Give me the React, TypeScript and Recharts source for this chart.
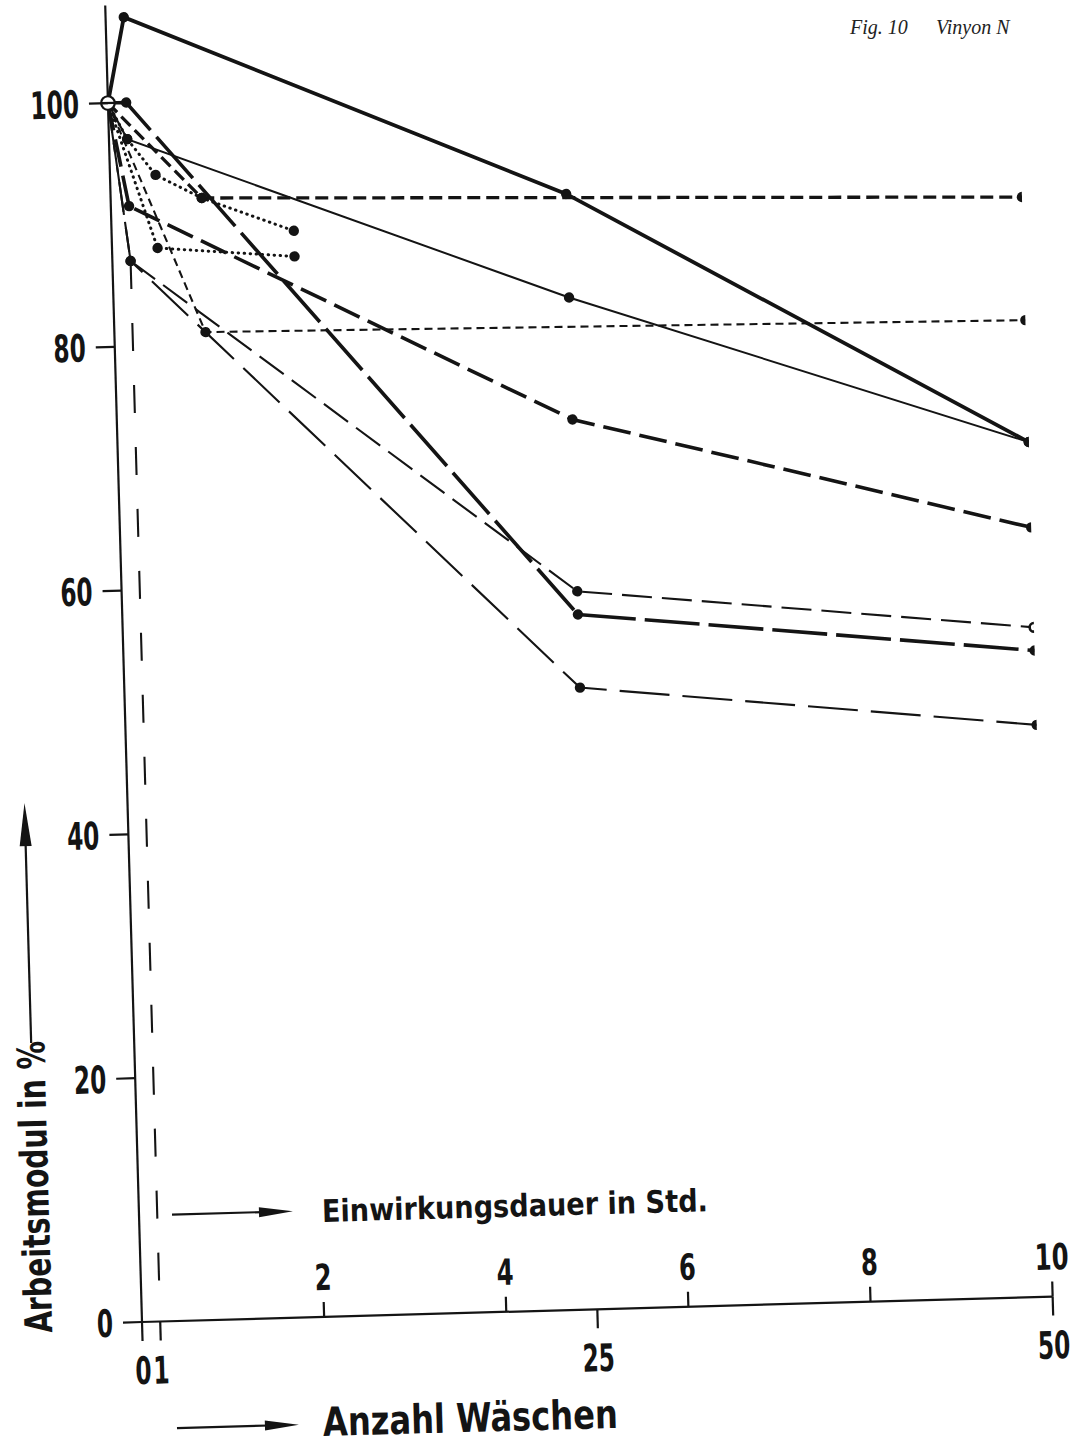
import { LineChart, Line, XAxis, YAxis, ReferenceDot } from "recharts";

type Punkt = { x: number; y: number };

// x = Anzahl Wäschen (10 Std. Einwirkungsdauer entsprechen 50 Wäschen), y = Arbeitsmodul in %
const dickVoll: Punkt[] = [
  { x: 0, y: 100 },
  { x: 1, y: 107 },
  { x: 25, y: 91.5 },
  { x: 50, y: 70.1 },
];
const duennVoll: Punkt[] = [
  { x: 0, y: 100 },
  { x: 1, y: 97 },
  { x: 25, y: 83 },
  { x: 50, y: 70.1 },
];
const strich92: Punkt[] = [
  { x: 0, y: 100 },
  { x: 5, y: 92 },
  { x: 50, y: 90.2 },
];
const kurzStrich81: Punkt[] = [
  { x: 0, y: 100 },
  { x: 5, y: 81 },
  { x: 50, y: 80.1 },
];
const langDick57: Punkt[] = [
  { x: 0, y: 100 },
  { x: 1, y: 100 },
  { x: 25, y: 57 },
  { x: 50, y: 53 },
];
const langDick73: Punkt[] = [
  { x: 0, y: 100 },
  { x: 1, y: 91.5 },
  { x: 25, y: 73 },
  { x: 50, y: 63.1 },
];
const strich59: Punkt[] = [
  { x: 0, y: 100 },
  { x: 1, y: 87 },
  { x: 25, y: 58.9 },
  { x: 50, y: 54.9 },
];
const langDuenn51: Punkt[] = [
  { x: 0, y: 100 },
  { x: 1, y: 87 },
  { x: 25, y: 51 },
  { x: 50, y: 46.9 },
];
const senkrecht: Punkt[] = [
  { x: 1, y: 87 },
  { x: 1, y: 2 },
];
const punktiert89: Punkt[] = [
  { x: 0, y: 100 },
  { x: 1, y: 97 },
  { x: 2.5, y: 94 },
  { x: 5, y: 92 },
  { x: 10, y: 89.1 },
];
const punktiert87: Punkt[] = [
  { x: 0, y: 100 },
  { x: 2.5, y: 88 },
  { x: 10, y: 87 },
];

const WASCH_TICKS = [0, 1, 25, 50];
const STD_TICKS = [2, 4, 6, 8, 10];
const WAESCHEN_JE_STD = 5;
const Y_TICKS = [0, 20, 40, 60, 80, 100];

const X_TICKS = Array.from(
  new Set([...WASCH_TICKS, ...STD_TICKS.map((s) => s * WAESCHEN_JE_STD)])
).sort((a, b) => a - b);

const SCHWARZ = "#141414";
const SCHRIFT =
  "'Liberation Sans Narrow', 'DejaVu Sans Condensed', 'Roboto Condensed', Arial, sans-serif";

// schmale, fette Ziffern wie in der Normschrift: waagerecht gestaucht
function Ziffern({ x, y, wert, groesse, anker, stauchung }: { x: number; y: number; wert: number; groesse: number; anker: "start" | "middle" | "end"; stauchung: number }) {
  return (
    <text
      transform={`translate(${x} ${y}) scale(${stauchung} 1)`}
      x={0}
      y={0}
      textAnchor={anker}
      fontFamily={SCHRIFT}
      fontWeight="bold"
      fontSize={groesse}
      fill={SCHWARZ}
    >
      {wert}
    </text>
  );
}

function dotRenderer(anzahl: number, offenAmEnde = false) {
  return (props: any) => {
    const { cx, cy, index, payload } = props;
    const key = `p-${index}`;
    if (cx == null || payload?.x === 0) return <g key={key} />;
    if (offenAmEnde && index === anzahl - 1) {
      return <circle key={key} cx={cx} cy={cy} r={4.3} fill="#fff" stroke={SCHWARZ} strokeWidth={2.6} />;
    }
    return <circle key={key} cx={cx} cy={cy} r={5.2} fill={SCHWARZ} />;
  };
}

function XTick(props: any) {
  const { x, y, payload } = props;
  const w = payload.value as number;
  const std = w / WAESCHEN_JE_STD;
  const istWasch = WASCH_TICKS.includes(w);
  const istStd = STD_TICKS.includes(std);
  return (
    <g>
      {istWasch && <line x1={x} y1={y} x2={x} y2={y + 19} stroke={SCHWARZ} strokeWidth={2.2} />}
      {istWasch && <Ziffern x={x} y={y + 62} wert={w} groesse={38} anker="middle" stauchung={0.68} />}
      {istStd && <line x1={x} y1={y} x2={x} y2={y - 15} stroke={SCHWARZ} strokeWidth={2.2} />}
      {istStd && <Ziffern x={x} y={y - 27} wert={std} groesse={36} anker="middle" stauchung={0.75} />}
    </g>
  );
}

function YTick(props: any) {
  const { x, y, payload } = props;
  return (
    <g>
      <line x1={x - 19} y1={y} x2={x} y2={y} stroke={SCHWARZ} strokeWidth={2.2} />
      <Ziffern x={x - 29} y={y + 14} wert={payload.value} groesse={38} anker="end" stauchung={0.68} />
    </g>
  );
}

function Nullpunkt(props: any) {
  const { cx, cy } = props;
  return (
    <g>
      <circle cx={cx} cy={cy} r={6.8} fill="#fff" stroke={SCHWARZ} strokeWidth={2.2} />
      <line x1={cx - 6.8} y1={cy} x2={cx + 6.8} y2={cy} stroke={SCHWARZ} strokeWidth={2.2} />
    </g>
  );
}

export default function App() {
  return (
    <div style={{ position: "absolute", left: 0, top: 0, width: 1083, height: 1446, background: "#fff" }}>
      <div
        style={{
          position: "absolute",
          left: 0,
          top: 0,
          width: 1076,
          height: 1446,
          transform: "rotate(-1.6deg)",
          transformOrigin: "142px 1322px",
        }}
      >
        <LineChart width={1076} height={1446} margin={{ top: 5, right: 23, bottom: 84, left: 42 }}>
          <XAxis
            type="number"
            dataKey="x"
            domain={[0, 50]}
            ticks={X_TICKS}
            interval={0}
            tick={(p: any) => <XTick {...p} />}
            tickSize={0}
            tickMargin={0}
            tickLine={false}
            axisLine={{ stroke: SCHWARZ, strokeWidth: 2.2 }}
            height={40}
            allowDataOverflow
          />
          <YAxis
            type="number"
            domain={[0, 108]}
            ticks={Y_TICKS}
            interval={0}
            tick={(p: any) => <YTick {...p} />}
            tickSize={0}
            tickMargin={0}
            tickLine={false}
            axisLine={{ stroke: SCHWARZ, strokeWidth: 2.2 }}
            width={100}
            allowDataOverflow
          />

          <Line data={senkrecht} dataKey="y" stroke={SCHWARZ} strokeWidth={2.1} strokeDasharray="28 34" dot={false} activeDot={false} isAnimationActive={false} />
          <Line data={punktiert89} dataKey="y" stroke={SCHWARZ} strokeWidth={3} strokeDasharray="0.5 5.5" strokeLinecap="round" dot={dotRenderer(punktiert89.length)} activeDot={false} isAnimationActive={false} />
          <Line data={punktiert87} dataKey="y" stroke={SCHWARZ} strokeWidth={3} strokeDasharray="0.5 5.5" strokeLinecap="round" dot={dotRenderer(punktiert87.length)} activeDot={false} isAnimationActive={false} />
          <Line data={kurzStrich81} dataKey="y" stroke={SCHWARZ} strokeWidth={2.1} strokeDasharray="8 5" dot={dotRenderer(kurzStrich81.length)} activeDot={false} isAnimationActive={false} />
          <Line data={langDuenn51} dataKey="y" stroke={SCHWARZ} strokeWidth={2.1} strokeDasharray="50 13" dot={dotRenderer(langDuenn51.length)} activeDot={false} isAnimationActive={false} />
          <Line data={strich59} dataKey="y" stroke={SCHWARZ} strokeWidth={2.1} strokeDasharray="30 10" dot={dotRenderer(strich59.length, true)} activeDot={false} isAnimationActive={false} />
          <Line data={duennVoll} dataKey="y" stroke={SCHWARZ} strokeWidth={2} dot={dotRenderer(duennVoll.length)} activeDot={false} isAnimationActive={false} />
          <Line data={langDick73} dataKey="y" stroke={SCHWARZ} strokeWidth={3.6} strokeDasharray="28 9" dot={dotRenderer(langDick73.length)} activeDot={false} isAnimationActive={false} />
          <Line data={langDick57} dataKey="y" stroke={SCHWARZ} strokeWidth={3.6} strokeDasharray="55 9" dot={dotRenderer(langDick57.length)} activeDot={false} isAnimationActive={false} />
          <Line data={strich92} dataKey="y" stroke={SCHWARZ} strokeWidth={3.3} strokeDasharray="13 6" dot={dotRenderer(strich92.length)} activeDot={false} isAnimationActive={false} />
          <Line data={dickVoll} dataKey="y" stroke={SCHWARZ} strokeWidth={3.8} dot={dotRenderer(dickVoll.length)} activeDot={false} isAnimationActive={false} />

          <ReferenceDot x={0} y={100} r={6.8} shape={(p: any) => <Nullpunkt {...p} />} ifOverflow="visible" />
        </LineChart>

        {/* Achsenbeschriftungen mit Pfeilen */}
        <svg width={1076} height={1446} style={{ position: "absolute", left: 0, top: 0, pointerEvents: "none" }}>
          <line x1={175} y1={1215.5} x2={266} y2={1215.5} stroke={SCHWARZ} strokeWidth={2.2} />
          <polygon points="262,1210.5 296,1215.5 262,1220.5" fill={SCHWARZ} />
          <text x={325} y={1227} fontFamily={SCHRIFT} fontWeight="bold" fontSize={31} fill={SCHWARZ} textLength={386} lengthAdjust="spacingAndGlyphs">
            Einwirkungsdauer in Std.
          </text>

          <line x1={174} y1={1429} x2={266} y2={1429} stroke={SCHWARZ} strokeWidth={2.2} />
          <polygon points="262,1424 296,1429 262,1434" fill={SCHWARZ} />
          <text x={320} y={1441} fontFamily={SCHRIFT} fontWeight="bold" fontSize={40} fill={SCHWARZ} textLength={295} lengthAdjust="spacingAndGlyphs">
            Anzahl Wäschen
          </text>

          <text
            x={52}
            y={1330}
            transform="rotate(-90 52 1330)"
            fontFamily={SCHRIFT}
            fontWeight="bold"
            fontSize={38}
            fill={SCHWARZ}
            textLength={292}
            lengthAdjust="spacingAndGlyphs"
          >
            Arbeitsmodul in %
          </text>
          <line x1={39} y1={1040} x2={39} y2={840} stroke={SCHWARZ} strokeWidth={2.2} />
          <polygon points="33,843 39,800 45,843" fill={SCHWARZ} />
        </svg>
      </div>

      <div
        style={{
          position: "absolute",
          left: 850,
          top: 16,
          fontFamily: "'Liberation Serif', 'DejaVu Serif', serif",
          fontStyle: "italic",
          fontSize: 20,
          color: "#222",
          whiteSpace: "pre",
        }}
      >
        Fig. 10
      </div>
      <div
        style={{
          position: "absolute",
          left: 936,
          top: 16,
          fontFamily: "'Liberation Serif', 'DejaVu Serif', serif",
          fontStyle: "italic",
          fontSize: 20,
          color: "#222",
          whiteSpace: "pre",
        }}
      >
        Vinyon N
      </div>
    </div>
  );
}
